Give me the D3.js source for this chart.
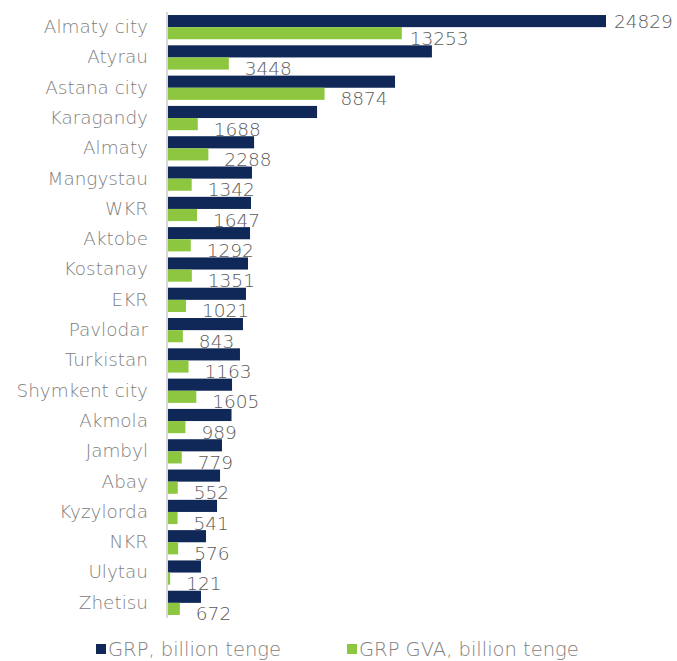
<!DOCTYPE html>
<html>
<head>
<meta charset="utf-8">
<script src="https://cdn.jsdelivr.net/npm/d3@7"></script>
<style>
  html, body { margin: 0; padding: 0; background: #ffffff; }
  svg text { font-family: "DejaVu Sans", sans-serif; font-weight: 300; }
</style>
</head>
<body>
<svg id="chart" width="677" height="661"></svg>
<script>
// Regions of Kazakhstan, ordered as listed
const regions = ["Almaty city", "Atyrau", "Astana city", "Karagandy", "Almaty", "Mangystau",
  "WKR", "Aktobe", "Kostanay", "EKR", "Pavlodar", "Turkistan", "Shymkent city", "Akmola",
  "Jambyl", "Abay", "Kyzylorda", "NKR", "Ulytau", "Zhetisu"];

// Gross regional product, billion tenge
const grp = [24829, 14960, 12870, 8450, 4880, 4760, 4705, 4650, 4535, 4420,
  4250, 4080, 3630, 3600, 3060, 2950, 2780, 2155, 1870, 1870];

// Gross value added, billion tenge
const gva = [13253, 3448, 8874, 1688, 2288, 1342, 1647, 1292, 1351, 1021,
  843, 1163, 1605, 989, 779, 552, 541, 576, 121, 672];

const seriesKeys = ["grp", "gva"];
const seriesNames = ["GRP, billion tenge", "GRP GVA, billion tenge"];
const seriesColors = ["#0f2857", "#8dc63f"];

const svg = d3.select("#chart");
const x0 = 168;

const x = d3.scaleLinear().domain([0, 24829]).range([x0, 606]);
const y = d3.scaleBand().domain(regions).range([12, 618]).paddingInner(0.2).paddingOuter(0.1);
const ySub = d3.scaleBand().domain(seriesKeys).range([0, y.bandwidth()]);
const color = d3.scaleOrdinal().domain(seriesKeys).range(seriesColors);

const rows = regions.map((r, i) => ({ region: r, grp: grp[i], gva: gva[i], i }));

// Category axis
const yAxis = d3.axisLeft(y).tickSize(0).tickPadding(20);
const ga = svg.append("g").attr("transform", `translate(${x0},0)`).call(yAxis);
ga.select(".domain").attr("stroke", "#d9d9d9").attr("stroke-width", 2).attr("d", `M-1,${y.range()[0]}V${y.range()[1]}`);
ga.selectAll(".tick text")
  .attr("fill", "#808080")
  .style("font-size", "18.4px");

// Bars
const groups = svg.append("g").selectAll("g").data(rows).join("g")
  .attr("transform", d => `translate(0,${y(d.region)})`);

groups.selectAll("rect").data(d => seriesKeys.map(k => ({ key: k, value: d[k] })))
  .join("rect")
  .attr("x", x(0))
  .attr("y", d => ySub(d.key))
  .attr("width", d => x(d.value) - x(0))
  .attr("height", ySub.bandwidth())
  .attr("fill", d => color(d.key));

// GVA value labels, sitting just below the end of each green bar
groups.append("text")
  .attr("x", d => x(d.gva) + (d.i === 0 ? 8 : 16))
  .attr("y", y.bandwidth() - 1)
  .attr("dominant-baseline", "central")
  .attr("fill", "#595959")
  .style("font-size", "18.5px")
  .text(d => d.gva);

// GRP label on the largest bar
groups.filter(d => d.grp === d3.max(grp)).append("text")
  .attr("x", d => x(d.grp) + 8)
  .attr("y", ySub("grp") + ySub.bandwidth() / 2)
  .attr("dominant-baseline", "central")
  .attr("fill", "#595959")
  .style("font-size", "18.5px")
  .text(d => d.grp);

// Legend
const legendX = [96, 347];
const legend = svg.append("g").selectAll("g").data(seriesKeys).join("g")
  .attr("transform", (d, i) => `translate(${legendX[i]},649)`);
legend.append("rect").attr("x", 0).attr("y", -5).attr("width", 10).attr("height", 10)
  .attr("fill", d => color(d));
legend.append("text").attr("x", 12).attr("y", 0).attr("dominant-baseline", "central")
  .attr("fill", "#808080").style("font-size", "19.5px")
  .text((d, i) => seriesNames[i]);
</script>
</body>
</html>
